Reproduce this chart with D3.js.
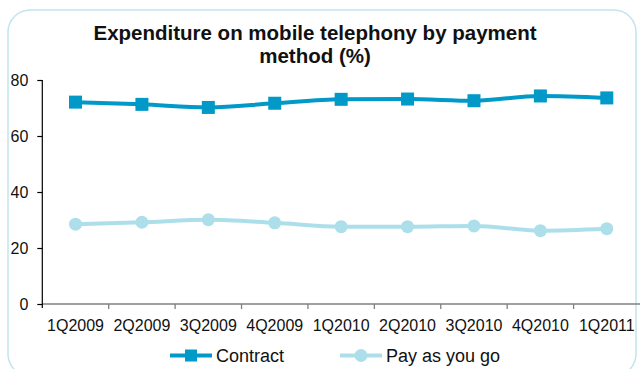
<!DOCTYPE html>
<html>
<head>
<meta charset="utf-8">
<script src="https://cdn.jsdelivr.net/npm/d3@7"></script>
<style>
  html, body { margin: 0; padding: 0; background: #fff; }
  svg { display: block; font-family: "Liberation Sans", Arial, sans-serif; }
</style>
</head>
<body>
<svg id="chart" width="640" height="369"></svg>
<script>
// Quarterly share of mobile telephony spend, by payment method
const quarters = ["1Q2009", "2Q2009", "3Q2009", "4Q2009", "1Q2010", "2Q2010", "3Q2010", "4Q2010", "1Q2011"];
const contract = [72.1, 71.3, 70.2, 71.7, 73.1, 73.2, 72.6, 74.3, 73.6];
const payAsYouGo = [28.5, 29.2, 30.1, 29.0, 27.6, 27.6, 27.9, 26.2, 26.9];
const yTicks = [0, 20, 40, 60, 80];
const titleLines = ["Expenditure on mobile telephony by payment", "method (%)"];

const svg = d3.select("#chart");
const plot = { left: 42.3, right: 640, top: 80, bottom: 304 };

const colContract = "#0099c8";
const colPayg = "#addfeb";

// rounded frame
svg.append("rect")
  .attr("x", 8).attr("y", 10)
  .attr("width", 628).attr("height", 366)
  .attr("rx", 22).attr("ry", 22)
  .attr("fill", "#fff")
  .attr("stroke", "#c3e4ee")
  .attr("stroke-width", 1.5);

// title
const title = svg.append("text")
  .attr("text-anchor", "middle")
  .attr("font-weight", "bold")
  .attr("font-size", 20.5)
  .attr("fill", "#111");
titleLines.forEach((t, i) => {
  title.append("tspan").attr("x", 315).attr("y", 39.5 + i * 23).text(t);
});

const x = d3.scaleBand().domain(quarters).range([plot.left, plot.right]);
const y = d3.scaleLinear().domain([0, 80]).range([plot.bottom, plot.top]);

// x axis (gray baseline with ticks between categories)
const xAxis = svg.append("g").attr("transform", `translate(0,${plot.bottom})`);
xAxis.append("line")
  .attr("x1", plot.left).attr("x2", plot.right)
  .attr("stroke", "#808080").attr("stroke-width", 1.3);
xAxis.selectAll("line.tick")
  .data(quarters.slice(1))
  .enter().append("line")
  .attr("class", "tick")
  .attr("x1", d => x(d)).attr("x2", d => x(d))
  .attr("y1", 0).attr("y2", 5)
  .attr("stroke", "#808080").attr("stroke-width", 1.3);
xAxis.selectAll("text")
  .data(quarters)
  .enter().append("text")
  .attr("x", d => x(d) + x.bandwidth() / 2)
  .attr("y", 27)
  .attr("text-anchor", "middle")
  .attr("font-size", 16)
  .attr("fill", "#111")
  .text(d => d);

// y axis
const yAxis = svg.append("g")
  .attr("transform", `translate(${plot.left},0)`)
  .call(d3.axisLeft(y).tickValues(yTicks).tickSize(5).tickPadding(9));
yAxis.select(".domain")
  .attr("d", `M0,${plot.top}V${plot.bottom + 4}`)
  .attr("stroke", "#000").attr("stroke-width", 1.2);
yAxis.selectAll(".tick line").attr("stroke", "#000").attr("stroke-width", 1.2);
yAxis.selectAll(".tick text")
  .attr("font-size", 16)
  .attr("font-family", "Liberation Sans, Arial, sans-serif")
  .attr("fill", "#111");

const cx = (d, i) => x(quarters[i]) + x.bandwidth() / 2;
const line = d3.line().x(cx).y(d => y(d)).curve(d3.curveMonotoneX);

// Pay as you go series
svg.append("path")
  .datum(payAsYouGo)
  .attr("d", line)
  .attr("fill", "none")
  .attr("stroke", colPayg)
  .attr("stroke-width", 4);
svg.selectAll("circle.payg")
  .data(payAsYouGo)
  .enter().append("circle")
  .attr("class", "payg")
  .attr("cx", cx).attr("cy", d => y(d))
  .attr("r", 6.5)
  .attr("fill", colPayg);

// Contract series
svg.append("path")
  .datum(contract)
  .attr("d", line)
  .attr("fill", "none")
  .attr("stroke", colContract)
  .attr("stroke-width", 4);
const sq = 13;
svg.selectAll("rect.contract")
  .data(contract)
  .enter().append("rect")
  .attr("class", "contract")
  .attr("x", (d, i) => cx(d, i) - sq / 2)
  .attr("y", d => y(d) - sq / 2)
  .attr("width", sq).attr("height", sq)
  .attr("fill", colContract);

// legend
const legend = [
  { name: "Contract", color: colContract, shape: "square", x0: 170 },
  { name: "Pay as you go", color: colPayg, shape: "circle", x0: 340 }
];
const ly = 355.5;
legend.forEach(l => {
  const g = svg.append("g");
  g.append("line")
    .attr("x1", l.x0).attr("x2", l.x0 + 42)
    .attr("y1", ly).attr("y2", ly)
    .attr("stroke", l.color).attr("stroke-width", 4);
  if (l.shape === "square") {
    g.append("rect")
      .attr("x", l.x0 + 21 - 6).attr("y", ly - 6)
      .attr("width", 12).attr("height", 12)
      .attr("fill", l.color);
  } else {
    g.append("circle")
      .attr("cx", l.x0 + 21).attr("cy", ly)
      .attr("r", 6.5).attr("fill", l.color);
  }
  g.append("text")
    .attr("x", l.x0 + 46).attr("y", ly + 6.5)
    .attr("font-size", 18)
    .attr("fill", "#111")
    .text(l.name);
});
</script>
</body>
</html>
